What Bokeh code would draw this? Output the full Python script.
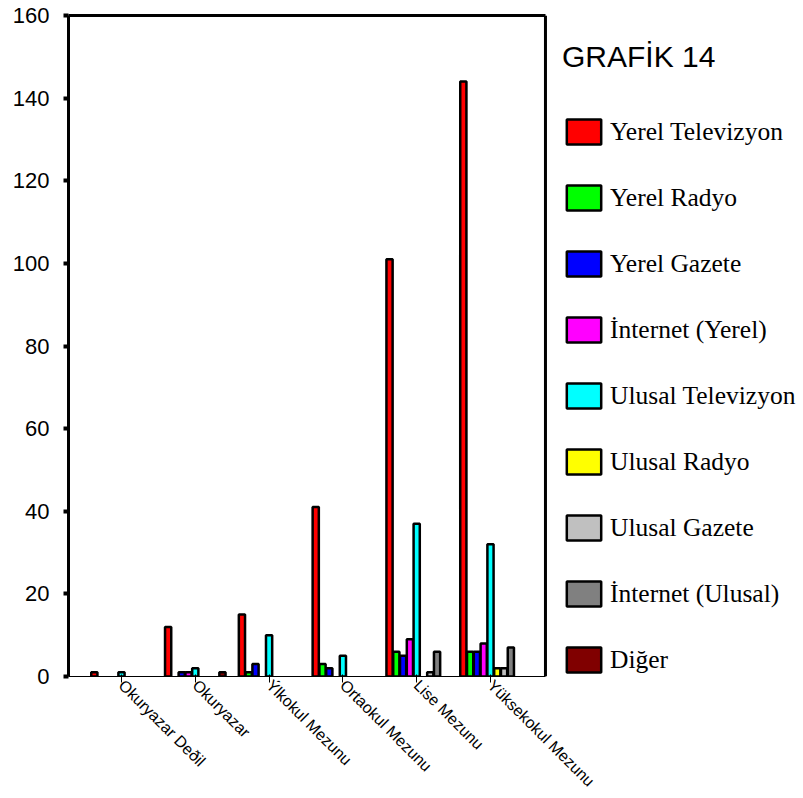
import math
import numpy as np
from bokeh.plotting import figure
from bokeh.models import (Range1d, FixedTicker, Legend, LegendItem, LinearAxis,
                          Span, ColumnDataSource)
from bokeh.embed import file_html
from bokeh.resources import INLINE

# ---------------- data ----------------
categories = ["Okuryazar Deðil", "Okuryazar", "Ýlkokul Mezunu",
              "Ortaokul Mezunu", "Lise Mezunu", "Yüksekokul Mezunu"]
series_names = ["Yerel Televizyon", "Yerel Radyo", "Yerel Gazete",
                "İnternet (Yerel)", "Ulusal Televizyon", "Ulusal Radyo",
                "Ulusal Gazete", "İnternet (Ulusal)", "Diğer"]
yerel_tv = [1, 12, 15, 41, 101, 144]
yerel_radyo = [0, 0, 1, 3, 6, 6]
yerel_gazete = [0, 1, 3, 2, 5, 6]
internet_yerel = [0, 1, 0, 0, 9, 8]
ulusal_tv = [1, 2, 10, 5, 37, 32]
ulusal_radyo = [0, 0, 0, 0, 0, 2]
ulusal_gazete = [0, 0, 0, 0, 1, 2]
internet_ulusal = [0, 0, 0, 0, 6, 7]
diger = [0, 1, 0, 0, 0, 0]
y_ticks = [0, 20, 40, 60, 80, 100, 120, 140, 160]
title_text = "GRAFİK 14"

series_values = [yerel_tv, yerel_radyo, yerel_gazete, internet_yerel,
                 ulusal_tv, ulusal_radyo, ulusal_gazete, internet_ulusal, diger]
colors = ["#FF0000", "#00FF00", "#0000FF", "#FF00FF", "#00FFFF",
          "#FFFF00", "#C0C0C0", "#808080", "#800000"]

# ---------------- figure ----------------
x_lo, x_hi = -0.718, 5.745          # extent of the drawn chart box
unit_px = 73.8                       # pixels per category
frame_w = 803 - 68
p = figure(width=803, height=798, output_backend="svg", toolbar_location=None,
           x_range=Range1d(x_lo, x_lo + frame_w / unit_px), y_range=Range1d(0, 160),
           min_border_left=68, min_border_right=0, min_border_top=15,
           min_border_bottom=122)
p.background_fill_color = "white"
p.border_fill_color = "white"
p.xgrid.visible = False
p.ygrid.visible = False
p.outline_line_color = None

step = 0.092
bar_w = 0.084
cat_idx = np.arange(len(categories))
items = []
for i, (name, vals, col) in enumerate(zip(series_names, series_values, colors)):
    v = np.array(vals, dtype=float)
    mask = v > 0
    src = ColumnDataSource(dict(x=(cat_idx + (i - 4) * step)[mask], top=v[mask]))
    r = p.vbar(x="x", top="top", width=bar_w, source=src, fill_color=col,
               line_color="black", line_width=2.5)
    items.append(LegendItem(label=name, renderers=[r]))

# top border of the chart box
top_axis = LinearAxis(ticker=FixedTicker(ticks=[]), bounds=(x_lo, x_hi),
                      axis_line_width=3, axis_line_color="black",
                      major_label_text_font_size="0px", major_label_standoff=0,
                      major_tick_line_color=None, minor_tick_line_color=None)
p.add_layout(top_axis, "above")
# right border of the chart box
p.add_layout(Span(location=x_hi, dimension="height", line_color="black",
                  line_width=3))

# axes
for ax in (p.xaxis[0], p.yaxis[0]):
    ax.axis_line_color = "black"
    ax.axis_line_width = 3
    ax.major_tick_line_color = "black"
    ax.major_tick_line_width = 4
    ax.major_tick_out = 5
    ax.major_tick_in = 0
    ax.minor_tick_line_color = None

p.yaxis.ticker = FixedTicker(ticks=y_ticks)
p.yaxis.major_label_text_font = "Liberation Sans"
p.yaxis.major_label_text_font_size = "22px"
p.yaxis.major_label_text_color = "black"
p.yaxis.major_label_standoff = 14

xax = p.below[0]
xax.bounds = (x_lo, x_hi)
xax.ticker = FixedTicker(ticks=[int(k) for k in cat_idx])
xax.major_label_overrides = {int(k): c for k, c in zip(cat_idx, categories)}
xax.major_label_orientation = -math.pi / 4
xax.major_label_text_font = "Liberation Sans"
xax.major_label_text_font_size = "16px"
xax.major_label_text_color = "black"
xax.major_label_standoff = 0

legend = Legend(items=items, location=(494, 1), title=title_text,
                title_text_font="Liberation Sans", title_text_font_size="30px",
                title_text_font_style="normal", title_text_color="black",
                title_standoff=42,
                label_text_font="Liberation Serif", label_text_font_size="25.5px",
                label_text_color="black", label_standoff=5,
                glyph_width=43, glyph_height=31, spacing=35,
                padding=0, margin=0, border_line_color=None,
                background_fill_alpha=0)
p.add_layout(legend)

open("out.html", "w").write(file_html(p, INLINE))
